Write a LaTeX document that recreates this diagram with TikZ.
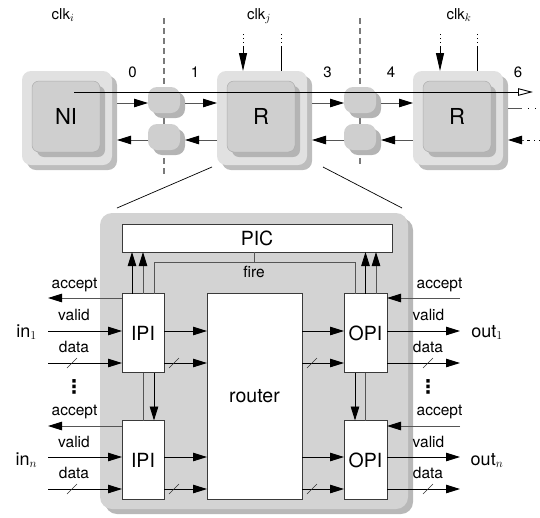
\documentclass[tikz,border=0pt]{standalone}
\usepackage{fontspec}
\setmainfont{TeX Gyre Heros}
\newfontfamily\symfont{DejaVu Sans Bold}
\usetikzlibrary{arrows.meta,calc}
\definecolor{outerc}{HTML}{E1E1E1}
\definecolor{outersh}{HTML}{BDBDBD}
\definecolor{innerc}{HTML}{CFCFCF}
\definecolor{innersh}{HTML}{B4B4B4}
\definecolor{innerbd}{HTML}{ADADAD}
\definecolor{mainc}{HTML}{D3D3D3}
\definecolor{mainsh}{HTML}{B8B8B8}
\definecolor{boxbd}{HTML}{3A3A3A}
\definecolor{wireg}{HTML}{555555}
\definecolor{sepc}{HTML}{7A7A7A}
\tikzset{
  every node/.append style={inner sep=0pt, outer sep=0pt},
  arw/.style={-{Triangle[length=14pt,width=8.5pt,color=black]}},
  clkarw/.style={-{Triangle[length=18pt,width=8pt,color=black]}},
  openarw/.style={-{Triangle[open,length=15pt,width=7.5pt,color=black]}},
  outerbox/.style={rectangle, rounded corners=9pt, minimum width=90pt, minimum height=94pt, fill=outerc},
  outershade/.style={outerbox, fill=outersh},
  innerbox/.style={rectangle, rounded corners=7pt, minimum width=68pt, minimum height=71pt, fill=innerc, draw=innerbd, line width=0.5pt, font=\fontsize{22}{26}\selectfont},
  innershade/.style={rectangle, rounded corners=7pt, minimum width=68pt, minimum height=71pt, fill=innersh},
  bufbox/.style={rectangle, rounded corners=9pt, minimum width=32pt, minimum height=26pt, fill=innerc},
  bufshade/.style={bufbox, fill=innersh},
  mainbox/.style={rectangle, rounded corners=12pt, minimum width=308pt, minimum height=296pt, fill=mainc},
  mainshade/.style={mainbox, fill=mainsh},
  unit/.style={rectangle, draw=boxbd, fill=white, line width=0.9pt, font=\fontsize{19.5}{23}\selectfont},
  lbl/.style={font=\fontsize{15.5}{18}\selectfont, anchor=base},
  io/.style={font=\fontsize{18}{21}\selectfont, anchor=base},
  num/.style={font=\fontsize{15}{18}\selectfont},
  vdot/.style={font=\symfont\fontsize{19}{20}\selectfont},
  wire/.style={draw=black, line width=0.9pt},
  gwire/.style={draw=wireg, line width=0.9pt},
  twire/.style={draw=wireg, line width=0.9pt},
  sepline/.style={draw=sepc, line width=1.1pt, dash pattern=on 6pt off 4pt},
  dotline/.style={draw=black, line width=0.9pt, dash pattern=on 1pt off 3pt},
  slash/.style={draw=black!80, line width=0.6pt},
}
\begin{document}
\begin{tikzpicture}[x=1pt,y=-1pt]
\useasboundingbox (0,0) rectangle (540,517);
% ---------- top row: centres ----------
\coordinate (NIc) at (67,118);
\coordinate (Rjc) at (262,118);
\coordinate (Rkc) at (458,118);
% separators
\coordinate (s1t) at (164,18); \coordinate (s1b) at (164,177);
\coordinate (s2t) at (360,18); \coordinate (s2b) at (360,167);
\draw[sepline] (s1t) -- (s1b);
\draw[sepline] (s2t) -- (s2b);
% boxes
\foreach \n/\t in {NI/NI,Rj/R,Rk/R}{
  \node[outershade] (\n sh) at ([shift={(5,5)}]\n c) {};
  \node[outerbox] (\n o) at (\n c) {};
  \node[innershade] (\n ish) at ([shift={(4,3.5)}]\n c) {};
  \node[innerbox] (\n i) at ([shift={(-1,-1.5)}]\n c) {\t};
}
% buffers
\foreach \n/\x/\y in {b1u/164/100,b1l/164/137,b2u/360/100,b2l/360/137}{
  \node[bufshade] (\n sh) at (\x+5,\y+5) {};
  \node[bufbox] (\n) at (\x,\y) {};
}
% levels
\coordinate (up) at (0,103);
\coordinate (lo) at (0,140);
\draw[twire,arw] (NIsh.east |- up) -- (b1u.west |- up);
\draw[twire,arw] (b1ush.east |- up) -- (Rjo.west |- up);
\draw[twire,arw] (Rjsh.east |- up) -- (b2u.west |- up);
\draw[twire,arw] (b2ush.east |- up) -- (Rko.west |- up);
\draw[twire,arw] (Rjo.west |- lo) -- (b1lsh.east |- lo);
\draw[twire,arw] (b1l.west |- lo) -- (NIsh.east |- lo);
\draw[twire,arw] (Rko.west |- lo) -- (b2lsh.east |- lo);
\draw[twire,arw] (b2l.west |- lo) -- (Rjsh.east |- lo);
% right open ends
\coordinate (rU) at (522,108);
\draw[twire] (Rksh.east |- rU) -- (rU);
\draw[dotline, dash pattern=on 1pt off 6pt] (rU) ++(6,0) -- ++(14,0);
\coordinate (rL) at (524,140);
\draw[twire,arw] (rL) -- (Rksh.east |- rL);
\draw[dotline, dash pattern=on 3pt off 4pt on 1pt off 4pt] (rL) ++(3,0) -- ++(14,0);
% long bus line
\coordinate (bus0) at (74,92);
\coordinate (bus1) at (533,92);
\draw[wire,openarw] (bus0) -- (bus1);
% clocks
\foreach \c/\x/\b in {cj1/243/Rjo,ck1/440/Rko}{
  \coordinate (\c) at (\x,47);
  \draw[wire,clkarw] (\c) -- (\c |- \b.north);
  \draw[dotline] (\c) -- ++(0,-13);
}
\foreach \c/\x/\b in {cj2/281/Rjo,ck2/477/Rko}{
  \coordinate (\c) at (\x,47);
  \draw[wire] (\c) -- (\c |- \b.north);
  \draw[dotline] (\c) -- ++(0,-13);
}
% labels top
\node[num, anchor=base] (clki) at (63,19) {clk$_i$};
\node[num, anchor=base] (clkj) at (259,19) {clk$_j$};
\node[num, anchor=base] (clkk) at (459,19) {clk$_k$};
\node[num] (n0) at (132.5,72) {0};
\node[num] (n1) at (195,72) {1};
\node[num] (n3) at (327.5,72) {3};
\node[num] (n4) at (391,72) {4};
\node[num] (n6) at (518,72) {6};
% zoom lines
\coordinate (z1a) at (212,167); \coordinate (z1b) at (117,208);
\coordinate (z2a) at (323,167); \coordinate (z2b) at (402,208);
\draw[wire, line width=0.7pt] (z1a) -- (z1b);
\draw[wire, line width=0.7pt] (z2a) -- (z2b);
% ---------- lower part ----------
\node[mainshade] (mainsh) at (259,366) {};
\node[mainbox] (main) at (254,361) {};
\node[unit, minimum width=270pt, minimum height=28pt] (PIC) at (257,238) {PIC};
\node[unit, minimum width=42pt, minimum height=79pt] (IPI1) at (143,333) {IPI};
\node[unit, minimum width=42pt, minimum height=79pt] (IPI2) at (143,460) {IPI};
\node[unit, minimum width=43pt, minimum height=79pt] (OPI1) at (365.5,333) {OPI};
\node[unit, minimum width=43pt, minimum height=79pt] (OPI2) at (365.5,460) {OPI};
\node[unit, minimum width=95pt, minimum height=206pt] (router) at (254.5,396) {router};
% x positions
\coordinate (xa) at (132,0); \coordinate (xb) at (143,0); \coordinate (xf) at (154,0);
\coordinate (xg) at (355,0); \coordinate (xh) at (365.5,0); \coordinate (xi) at (376,0);
\coordinate (xfire) at (254,0); \coordinate (fy) at (0,262);
% PIC connections
\draw[wire,arw] (IPI1.north -| xa) -- (PIC.south -| xa);
\draw[gwire,arw] (IPI1.north -| xb) -- (PIC.south -| xb);
\draw[wire,arw] (OPI1.north -| xh) -- (PIC.south -| xh);
\draw[gwire,arw] (OPI1.north -| xi) -- (PIC.south -| xi);
\draw[gwire] (PIC.south -| xfire) -- (xfire |- fy);
\draw[gwire] (IPI1.north -| xf) |- (xg |- fy) -- (OPI1.north -| xg);
\node[lbl] (fire) at (254,277) {fire};
% verticals between units
\draw[gwire] (IPI1.south -| xb) -- (IPI2.north -| xb);
\draw[wire,arw] (IPI1.south -| xf) -- (IPI2.north -| xf);
\draw[wire,arw] (OPI1.south -| xg) -- (OPI2.north -| xg);
\draw[gwire] (OPI1.south -| xh) -- (OPI2.north -| xh);
% signal levels
\coordinate (a1) at (0,298); \coordinate (v1) at (0,331); \coordinate (d1) at (0,363);
\coordinate (a2) at (0,426); \coordinate (v2) at (0,457); \coordinate (d2) at (0,489);
\coordinate (Lx) at (48,0); \coordinate (Rx) at (460,0);
\foreach \k in {1,2}{
  \draw[gwire,arw] (IPI\k.west |- a\k) -- (Lx |- a\k);
  \draw[wire,arw] (Lx |- v\k) -- (IPI\k.west |- v\k);
  \draw[wire,arw] (Lx |- d\k) -- (IPI\k.west |- d\k);
  \draw[wire,arw] (IPI\k.east |- v\k) -- (router.west |- v\k);
  \draw[wire,arw] (IPI\k.east |- d\k) -- (router.west |- d\k);
  \draw[wire,arw] (router.east |- v\k) -- (OPI\k.west |- v\k);
  \draw[wire,arw] (router.east |- d\k) -- (OPI\k.west |- d\k);
  \draw[gwire,arw] (Rx |- a\k) -- (OPI\k.east |- a\k);
  \draw[wire,arw] (OPI\k.east |- v\k) -- (Rx |- v\k);
  \draw[wire,arw] (OPI\k.east |- d\k) -- (Rx |- d\k);
}
\foreach \dy in {363,489}{
  \foreach \sx in {72,174,312,428}{
    \draw[slash] (\sx-5,\dy+5) -- (\sx+5,\dy-5);
  }
}
% signal labels
\foreach \k/\ay/\vy/\dy in {1/288/320/352,2/415/447/478}{
  \node[lbl] (accL\k) at (74.5,\ay) {accept};
  \node[lbl] (valL\k) at (74,\vy) {valid};
  \node[lbl] (datL\k) at (74,\dy) {data};
  \node[lbl] (accR\k) at (439.5,\ay) {accept};
  \node[lbl] (valR\k) at (428.5,\vy) {valid};
  \node[lbl] (datR\k) at (428,\dy) {data};
}
\node[io] (in1) at (26.5,337) {in$_1$};
\node[io] (inn) at (26.5,465) {in$_n$};
\node[io] (out1) at (487,337) {out$_1$};
\node[io] (outn) at (487,465) {out$_n$};
\node[vdot] (vdL) at (74,387) {⋮};
\node[vdot] (vdR) at (428,387) {⋮};
\end{tikzpicture}
\end{document}
